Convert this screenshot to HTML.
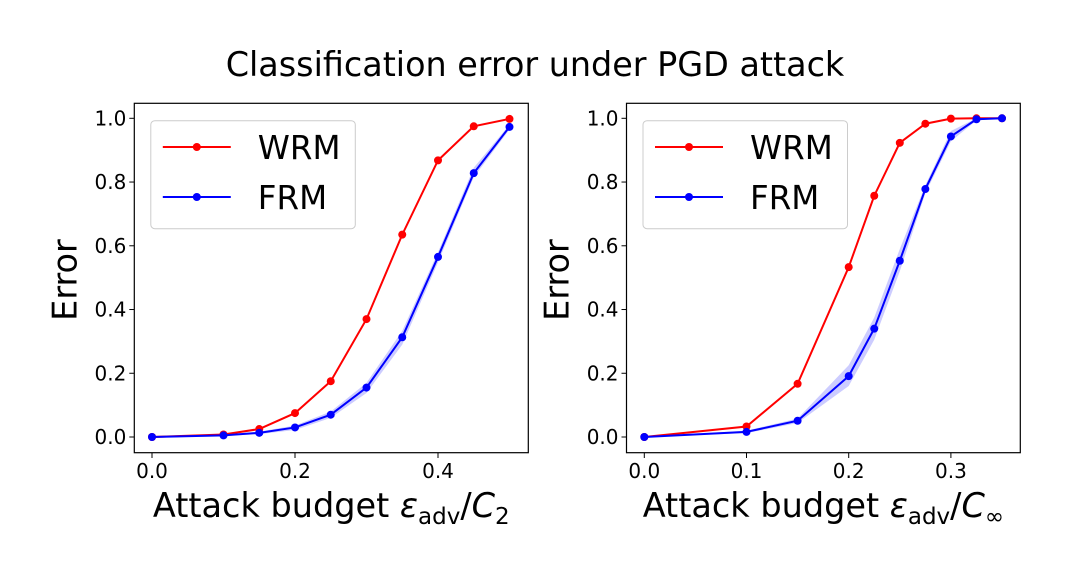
<!DOCTYPE html>
<html><head><meta charset="utf-8"><style>
html,body{margin:0;padding:0;background:#fff;}
svg{display:block;font-family:"DejaVu Sans","Liberation Sans",sans-serif;}
</style></head><body>
<svg id="fig" width="1070" height="575" viewBox="0 0 1070 575">
<text x="535" y="76" text-anchor="middle" font-size="33.4" fill="#000">Classification error under PGD attack</text>
</svg>
<script>
const leftX=[0,0.1,0.15,0.2,0.25,0.3,0.35,0.4,0.45,0.5];
const leftWRM=[0,0.008,0.025,0.075,0.175,0.37,0.635,0.868,0.975,0.998];
const leftFRM=[0,0.005,0.013,0.03,0.07,0.155,0.313,0.565,0.828,0.973];
const leftFRMlo=[0,0.003,0.009,0.022,0.06,0.138,0.29,0.548,0.815,0.965];
const leftFRMhi=[0,0.007,0.017,0.036,0.08,0.17,0.333,0.58,0.845,0.98];
const rightX=[0,0.1,0.15,0.2,0.225,0.25,0.275,0.3,0.325,0.35];
const rightWRM=[0,0.033,0.167,0.533,0.757,0.923,0.983,0.999,1,1];
const rightFRM=[0,0.016,0.051,0.191,0.34,0.553,0.778,0.943,0.997,1];
const rightFRMlo=[0,0.012,0.044,0.16,0.305,0.52,0.765,0.928,0.993,1];
const rightFRMhi=[0,0.02,0.058,0.225,0.375,0.59,0.79,0.96,1,1];
const leftXTicks=[0,0.2,0.4];
const rightXTicks=[0,0.1,0.2,0.3];
const yTicks=[0,0.2,0.4,0.6,0.8,1.0];

const NS='http://www.w3.org/2000/svg';
const svg=document.getElementById('fig');
function mk(tag,attrs,parent){const e=document.createElementNS(NS,tag);for(const k in attrs)e.setAttribute(k,attrs[k]);(parent||svg).appendChild(e);return e;}

function panel(p){
  const g=mk('g',{});
  
  
  const sx=v=>p.x0+(v-0)*(p.x1px-p.x0)/p.x1v;
  const sy=v=>437-v*(437-118.3);
  let d='';
  p.xs.forEach((v,i)=>{d+=(i?'L':'M')+sx(v)+','+sy(p.hi[i]);});
  for(let i=p.xs.length-1;i>=0;i--)d+='L'+sx(p.xs[i])+','+sy(p.lo[i]);
  const band=mk('path',{d:d+'Z',fill:'#0000ff','fill-opacity':'0.2',stroke:'none'},g);
  
  
  [[p.wrm,'#ff0000','wrm'],[p.frm,'#0000ff','frm']].forEach(([ys,c,n])=>{
    const pts=p.xs.map((v,i)=>sx(v)+','+sy(ys[i])).join(' ');
    const l=mk('polyline',{points:pts,fill:'none',stroke:c,'stroke-width':'2'},g);
    
    
    p.xs.forEach((v,i)=>{
      const m=mk('circle',{cx:sx(v),cy:sy(ys[i]),r:4,fill:c},g);
      
      
    });
  });
  const box=mk('rect',{x:p.bl,y:103.3,width:p.br-p.bl,height:349.4,fill:'none',stroke:'#000','stroke-width':'1.2'},g);
  
  
  p.xt.forEach(v=>{
    mk('line',{x1:sx(v),x2:sx(v),y1:452.7,y2:458,stroke:'#000','stroke-width':'1'},g);
    const t=mk('text',{x:sx(v),y:478,'text-anchor':'middle','font-size':'20'},g);
    t.textContent=v.toFixed(1);
    
    
  });
  yTicks.forEach(v=>{
    mk('line',{x1:p.bl-5,x2:p.bl,y1:sy(v),y2:sy(v),stroke:'#000','stroke-width':'1'},g);
    const t=mk('text',{x:p.bl-8,y:sy(v)+7,'text-anchor':'end','font-size':'20'},g);
    t.textContent=v.toFixed(1);
    
    
  });
  const yl=mk('text',{x:0,y:0,'text-anchor':'middle','font-size':'33.5',transform:'translate('+(p.bl-58)+',280) rotate(-90)'},g);
  yl.textContent='Error';
  
  
  const xl=mk('text',{x:(p.bl+p.br)/2,y:517,'text-anchor':'middle','font-size':'33.5'},g);
  xl.innerHTML='Attack budget <tspan font-style="italic">ε</tspan><tspan font-size="23" dy="7">adv</tspan><tspan dy="-7">/</tspan><tspan font-style="italic">C</tspan><tspan font-size="23" dy="7">'+p.sub+'</tspan>';
  
  
  const lg=mk('g',{},g);
  
  
  const lx=p.bl+16.5;
  mk('rect',{x:lx,y:120.7,width:204.5,height:108,rx:4,fill:'#fff','fill-opacity':'0.8',stroke:'#cccccc','stroke-width':'1'},lg);
  [['WRM','#ff0000',147],['FRM','#0000ff',197]].forEach(([n,c,y])=>{
    const e=mk('g',{},lg);
    
    
    mk('line',{x1:lx+12,x2:lx+80,y1:y,y2:y,stroke:c,'stroke-width':'2'},e);
    mk('circle',{cx:lx+46,cy:y,r:4,fill:c},e);
    const t=mk('text',{x:lx+107,y:y+12,'font-size':'32.5'},e);
    t.textContent=n;
  });
}
panel({name:'left-panel',bl:134.3,br:528.3,x0:152,x1px:509.5,x1v:0.5,xs:leftX,wrm:leftWRM,frm:leftFRM,lo:leftFRMlo,hi:leftFRMhi,xt:leftXTicks,sub:'2'});
panel({name:'right-panel',bl:626.5,br:1020.3,x0:644.3,x1px:1002,x1v:0.35,xs:rightX,wrm:rightWRM,frm:rightFRM,lo:rightFRMlo,hi:rightFRMhi,xt:rightXTicks,sub:'∞'});
</script>
</body></html>
